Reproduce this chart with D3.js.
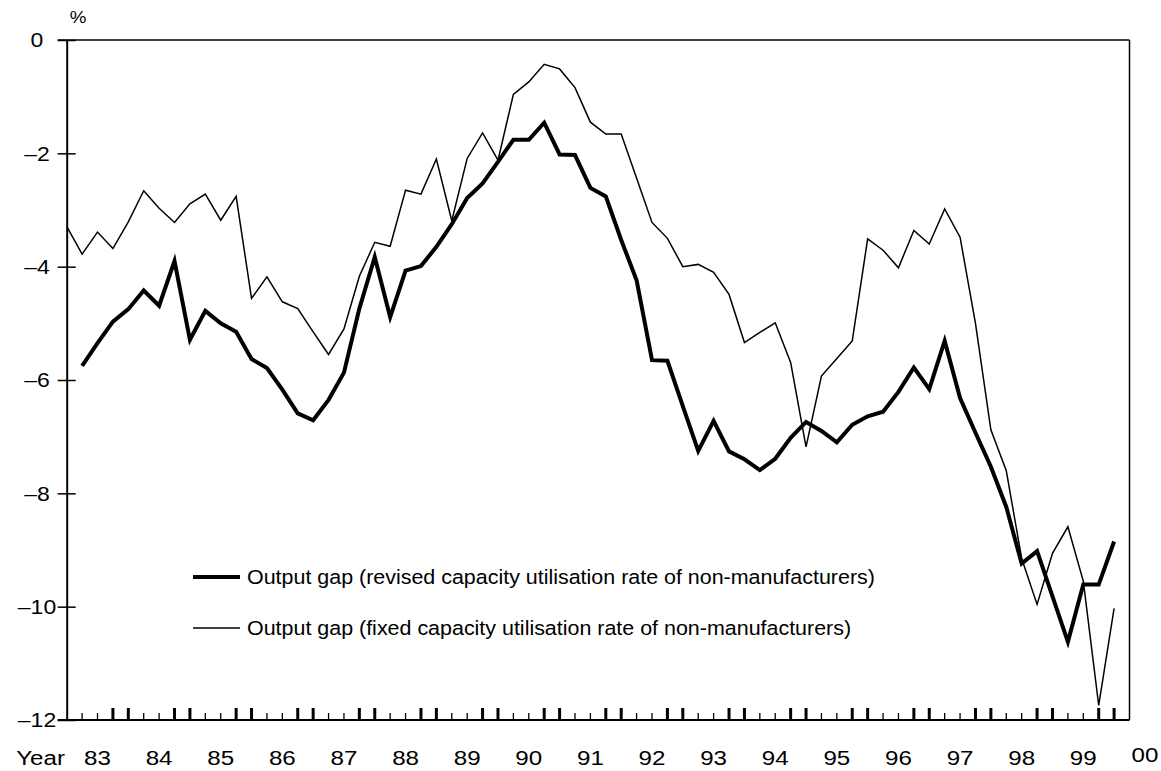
<!DOCTYPE html>
<html>
<head>
<meta charset="utf-8">
<script src="https://cdn.jsdelivr.net/npm/d3@7"></script>
<style>
  body { margin: 0; background: #fff; }
  svg text { font-family: "Liberation Sans", Arial, sans-serif; fill: #000; }
</style>
</head>
<body>
<div id="chart"></div>
<script>
  // Year labels under the axis (one per year, 4 quarters each)
  const years = ["83", "84", "85", "86", "87", "88", "89", "90", "91", "92",
                 "93", "94", "95", "96", "97", "98", "99", "00"];
  const yTicks = [0, -2, -4, -6, -8, -10, -12];

  // Output gap, fixed capacity utilisation rate of non-manufacturers (quarterly from 83)
  const fixedGap = [-3.29, -3.78, -3.39, -3.68, -3.21, -2.66, -2.97, -3.22, -2.89, -2.72,
    -3.18, -2.76, -4.56, -4.18, -4.62, -4.74, -5.15, -5.55, -5.10, -4.17,
    -3.57, -3.64, -2.65, -2.72, -2.10, -3.19, -2.09, -1.64, -2.12, -0.96,
    -0.74, -0.43, -0.51, -0.84, -1.45, -1.66, -1.66, -2.44, -3.22, -3.50,
    -4.00, -3.96, -4.10, -4.49, -5.34, -5.16, -4.99, -5.69, -7.18, -5.93,
    -5.62, -5.31, -3.51, -3.71, -4.02, -3.36, -3.60, -2.98, -3.48, -5.00,
    -6.88, -7.60, -9.15, -9.96, -9.06, -8.59, -9.55, -11.74, -10.03];

  // Output gap, revised capacity utilisation rate (starts one quarter later)
  const revisedGap = [null, -5.75, -5.35, -4.97, -4.75, -4.42, -4.69, -3.90, -5.29, -4.78,
    -5.00, -5.15, -5.63, -5.79, -6.17, -6.59, -6.71, -6.35, -5.87, -4.74,
    -3.83, -4.89, -4.07, -3.99, -3.65, -3.25, -2.79, -2.53, -2.15, -1.76,
    -1.76, -1.46, -2.02, -2.03, -2.61, -2.76, -3.53, -4.24, -5.65, -5.66,
    -6.46, -7.25, -6.72, -7.26, -7.40, -7.59, -7.39, -7.02, -6.74, -6.90,
    -7.10, -6.79, -6.64, -6.56, -6.21, -5.78, -6.16, -5.31, -6.32, -6.93,
    -7.53, -8.24, -9.24, -9.02, -9.82, -10.62, -9.61, -9.61, -8.85];

  const legendLabels = [
    "Output gap (revised capacity utilisation rate of non-manufacturers)",
    "Output gap (fixed capacity utilisation rate of non-manufacturers)"
  ];

  const width = 1161, height = 771;
  const plot = { left: 66.7, right: 1129.5, top: 40, bottom: 720 };
  const nQuarters = 69;
  const stretch = 1.15; // text in the source is a little wide

  const svg = d3.select("#chart").append("svg")
    .attr("width", width)
    .attr("height", height);

  const x = d3.scaleLinear().domain([0, nQuarters]).range([plot.left, plot.right]);
  const y = d3.scaleLinear().domain([-12, 0]).range([plot.bottom, plot.top]);

  function label(g, tx, ty, str, size, anchor, sx) {
    return g.append("text")
      .attr("transform", `translate(${tx},${ty}) scale(${sx || stretch},1)`)
      .attr("text-anchor", anchor)
      .attr("font-size", size + "px")
      .text(str);
  }

  // frame: top and right borders
  svg.append("line")
    .attr("x1", plot.left - 9).attr("x2", plot.right)
    .attr("y1", plot.top).attr("y2", plot.top)
    .attr("stroke", "#000").attr("stroke-width", 1.5);
  svg.append("line")
    .attr("x1", plot.right).attr("x2", plot.right)
    .attr("y1", plot.top).attr("y2", plot.bottom)
    .attr("stroke", "#000").attr("stroke-width", 1.5);

  // y axis
  const yAxis = svg.append("g")
    .attr("transform", `translate(${plot.left},0)`)
    .call(d3.axisLeft(y).tickValues(yTicks).tickSizeInner(9).tickSizeOuter(0).tickFormat(""))
    .call(g => g.select(".domain").attr("stroke-width", 2))
    .call(g => g.selectAll(".tick line").attr("x2", 9).attr("x1", -9).attr("stroke-width", 1.5));

  yTicks.forEach(v => {
    label(svg, 37, y(v), v === 0 ? "0" : "\u2013" + Math.abs(v), 20, "middle")
      .attr("dy", "0.36em");
  });
  label(svg, 78, 23, "%", 17, "middle", 1.1);

  // x axis with quarterly ticks, bold pairs around each year change
  const quarterTicks = d3.range(1, nQuarters);
  svg.append("g")
    .attr("transform", `translate(0,${plot.bottom})`)
    .call(d3.axisBottom(x).tickValues(quarterTicks).tickSize(0).tickFormat(""))
    .call(g => g.select(".domain").remove());

  svg.append("line")
    .attr("x1", plot.left - 9).attr("x2", plot.right)
    .attr("y1", plot.bottom).attr("y2", plot.bottom)
    .attr("stroke", "#000").attr("stroke-width", 2);

  svg.append("g").selectAll("line")
    .data(quarterTicks)
    .join("line")
    .attr("x1", d => x(d)).attr("x2", d => x(d))
    .attr("y1", plot.bottom)
    .attr("y2", d => (d % 4 === 3 || d % 4 === 0) ? plot.bottom - 12 : plot.bottom - 7)
    .attr("stroke", "#000")
    .attr("stroke-width", d => (d % 4 === 3 || d % 4 === 0) ? 3 : 1.3);

  label(svg, 65, 765, "Year", 21, "end");
  years.forEach((yr, k) => {
    const last = k === years.length - 1;
    label(svg, x(4 * k + 2), last ? 762 : 765, yr, 21, "middle");
  });

  // lines
  const lineGen = d3.line()
    .defined(d => d != null)
    .x((d, i) => x(i))
    .y(d => y(d));

  svg.append("path")
    .datum(fixedGap)
    .attr("fill", "none")
    .attr("stroke", "#000")
    .attr("stroke-width", 1.5)
    .attr("stroke-linejoin", "miter")
    .attr("d", lineGen);

  svg.append("path")
    .datum(revisedGap)
    .attr("fill", "none")
    .attr("stroke", "#000")
    .attr("stroke-width", 4)
    .attr("stroke-linejoin", "miter")
    .attr("d", lineGen);

  // legend
  const legendRows = [577, 628];
  const legendWidths = [4, 1.5];
  legendLabels.forEach((txt, i) => {
    svg.append("line")
      .attr("x1", 193).attr("x2", 240)
      .attr("y1", legendRows[i]).attr("y2", legendRows[i])
      .attr("stroke", "#000")
      .attr("stroke-width", legendWidths[i]);
    label(svg, 247, legendRows[i], txt, 19.5, "start", 1.1).attr("dy", "0.35em");
  });
</script>
</body>
</html>
